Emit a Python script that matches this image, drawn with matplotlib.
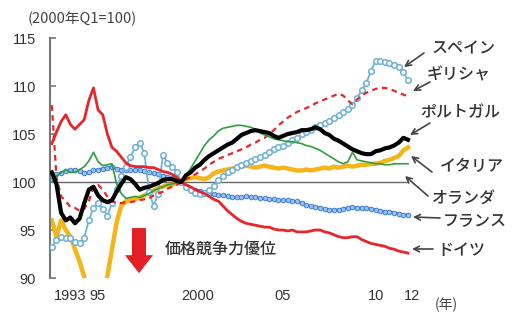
import numpy as np
import matplotlib.pyplot as plt

plt.rcParams['font.family'] = ['Noto Sans CJK JP', 'DejaVu Sans']

# quarterly, 1993Q1 .. 2012Q2 (2000Q1 = 100)
years = 1993 + np.arange(78) / 4

germany = [104.0, 105.2, 106.3, 107.0, 106.0, 105.5, 106.0, 106.5,
           108.5, 109.8, 107.5, 107.0, 105.0, 103.6, 103.2, 102.6,
           102.0, 101.7, 101.6, 101.6, 101.6, 101.5, 101.5, 101.3,
           101.1, 101.0, 100.8, 100.5, 100.0, 99.7, 99.5, 99.2,
           99.0, 98.8, 98.5, 98.2, 98.0, 97.5, 97.0, 96.6,
           96.2, 95.9, 95.7, 95.6, 95.5, 95.4, 95.3, 95.3,
           95.1, 95.0, 95.0, 94.9, 95.0, 94.8, 94.8, 94.8,
           94.9, 95.0, 95.0, 94.8, 94.7, 94.5, 94.3, 94.2,
           94.2, 94.3, 94.3, 94.0, 93.8, 93.6, 93.5, 93.4,
           93.3, 93.1, 93.0, 92.8, 92.7, 92.6]

greece = [108.0, 100.5, 98.5, 98.0, 97.4, 97.3, 97.0, 97.2,
          98.0, 99.5, 99.7, 99.2, 98.5, 98.0, 97.8, 97.8,
          97.9, 97.9, 98.0, 98.1, 98.2, 98.3, 98.6, 98.8,
          99.0, 99.3, 99.5, 99.7, 100.0, 100.3, 100.5, 100.8,
          101.1, 101.4, 101.8, 102.1, 102.4, 102.6, 102.8, 103.0,
          103.2, 103.4, 103.6, 103.9, 104.1, 104.4, 104.6, 105.0,
          105.4, 105.9, 106.3, 106.7, 107.0, 107.3, 107.5, 107.7,
          107.9, 108.2, 108.4, 108.6, 108.8, 109.0, 109.2, 109.0,
          108.5, 108.1, 108.6, 109.0, 109.3, 109.5, 109.7, 109.8,
          109.8, 109.7, 109.5, 109.3, 109.1, 108.9]

spain = [93.2, 94.0, 94.3, 94.2, 94.2, 93.8, 93.6, 94.2,
         96.0, 97.3, 97.8, 97.2, 96.5, 97.8, 99.3, 100.6,
         101.6, 102.6, 103.6, 104.1, 103.0, 99.0, 97.5, 98.8,
         102.8, 102.0, 101.6, 101.0, 100.0, 99.5, 99.2, 98.9,
         98.8, 98.9, 99.2, 99.6, 100.2, 100.6, 101.0, 101.3,
         101.6, 101.8, 102.0, 102.2, 102.4, 102.6, 102.8, 103.1,
         103.4, 103.6, 103.8, 104.1, 104.4, 104.6, 105.0, 105.2,
         105.4, 105.7, 105.9, 106.1, 106.4, 106.7, 107.0, 107.3,
         107.6, 108.0, 108.7, 109.6, 110.3, 111.6, 112.6, 112.6,
         112.5, 112.4, 112.2, 112.0, 111.5, 110.6]

portugal = [101.0, 99.8, 96.8, 96.0, 96.3, 95.7, 96.2, 97.8,
            99.2, 99.5, 98.6, 98.1, 97.9, 98.1, 99.0, 99.8,
            100.5, 100.3, 99.8, 99.2, 99.4, 99.5, 99.7, 99.9,
            100.2, 100.3, 100.3, 100.1, 100.0, 100.7, 101.0, 101.5,
            101.8, 102.3, 102.7, 103.0, 103.3, 103.6, 103.9, 104.1,
            104.5, 104.9, 105.1, 105.3, 105.4, 105.3, 105.2, 105.1,
            104.8, 104.6, 104.8, 105.0, 105.1, 105.2, 105.4, 105.4,
            105.5, 105.7, 105.5, 105.1, 104.9, 104.5, 104.3, 104.0,
            103.7, 103.4, 103.2, 103.0, 102.9, 102.9, 103.2, 103.3,
            103.5, 103.6, 103.8, 104.1, 104.6, 104.4]

italy = [96.0, 94.3, 96.0, 95.0, 94.3, 93.0, 91.7, 90.1,
         88.0, 87.0, 86.5, 87.5, 90.2, 93.0, 95.8, 97.5,
         98.0, 98.1, 98.2, 98.4, 98.6, 98.9, 99.1, 99.4,
         99.5, 99.7, 99.7, 99.9, 100.0, 100.3, 100.4, 100.5,
         100.4, 100.3, 100.5, 100.9, 101.1, 101.2, 101.3, 101.4,
         101.5, 101.6, 101.7, 101.6, 101.5, 101.6, 101.7, 101.6,
         101.5, 101.4, 101.5, 101.4, 101.3, 101.2, 101.2, 101.3,
         101.2, 101.3, 101.4, 101.5, 101.4, 101.6, 101.5, 101.6,
         101.7, 101.6, 101.7, 101.8, 101.8, 101.9, 101.9, 102.0,
         102.2, 102.3, 102.5, 102.7, 103.3, 103.6]

netherlands = [100.0, 100.6, 101.0, 101.3, 101.0, 101.0, 101.3, 101.6,
               102.2, 103.1, 102.1, 101.7, 101.8, 101.9, 99.8, 98.8,
               98.3, 98.4, 98.5, 98.4, 98.6, 98.8, 99.1, 99.3,
               99.5, 99.7, 99.8, 99.9, 100.0, 100.7, 101.4, 102.2,
               103.0, 103.8, 104.4, 104.8, 105.3, 105.6, 105.7, 105.8,
               105.9, 105.9, 105.8, 105.7, 105.5, 105.1, 104.9, 104.7,
               104.5, 104.4, 104.3, 104.2, 104.2, 104.1, 104.0, 103.8,
               103.7, 103.5, 103.3, 103.0, 102.7, 102.4, 102.1, 101.9,
               102.1, 103.1, 102.3, 102.2, 102.1, 102.0, 101.9, 101.9,
               101.8, 101.8, 101.9, 101.9, 101.9, 101.9]

france = [100.2, 100.8, 100.9, 101.1, 101.2, 101.3, 101.1, 100.9,
          101.0, 101.2, 101.3, 101.4, 101.5, 101.6, 101.4, 101.3,
          101.3, 101.2, 101.2, 101.3, 101.1, 101.0, 100.9, 100.8,
          100.6, 100.5, 100.4, 100.2, 100.0, 99.6, 99.3, 99.2,
          99.1, 98.9, 98.8, 98.7, 98.6, 98.6, 98.5, 98.4,
          98.4, 98.4, 98.5, 98.4, 98.4, 98.3, 98.3, 98.2,
          98.2, 98.1, 98.1, 98.1, 98.0, 98.0, 97.8, 97.6,
          97.5, 97.4, 97.3, 97.2, 97.1, 97.1, 97.1, 97.2,
          97.3, 97.4, 97.3, 97.3, 97.3, 97.2, 97.1, 97.0,
          96.9, 96.9, 96.8, 96.7, 96.6, 96.6]

xtick_pos = [1993.97, 1995.45, 2000.9, 2005.45, 2010.55, 2012.45]
xtick_lab = ['1993', '95', '2000', '05', '10', '12']
yticks = [90, 95, 100, 105, 110, 115]

# label text, text pos (px), arrow tail (px), arrow head (px)
labels = [('スペイン', (432, 49), (424, 53), (404, 67)),
          ('ギリシャ', (427, 75), (430, 82), (413, 91)),
          ('ポルトガル', (420, 113), (430, 123), (410, 135)),
          ('イタリア', (440, 167), (432, 172), (411, 156)),
          ('オランダ', (432, 198), (428, 196), (405, 176)),
          ('フランス', (443, 222), (440, 218), (413, 217)),
          ('ドイツ', (437, 250), (433, 249), (412, 249))]

W, H = 515, 312
fig = plt.figure(figsize=(W / 100, H / 100), dpi=100)
ax = fig.add_axes([50 / W, 34 / H, 370 / W, 240 / H])
ax.set_xlim(1992.9, 2012.9)
ax.set_ylim(90, 115)

ax.hlines(100, years[0], years[-1], color='#666666', lw=1.0, zorder=1)

ax.plot(years, italy, color='#f4b41a', lw=3.2, zorder=2)
ax.plot(years, france, color='#3f7fd0', lw=1.8, marker='o', ms=3.3,
        mfc='#9cc0ee', mec='#3f7fd0', mew=0.7, zorder=3)
ax.plot(years, spain, color='#6fb0d8', lw=1.3, marker='o', ms=4,
        mfc='white', mec='#6fb0d8', mew=1.1, zorder=3)
ax.plot(years, greece, color='#e8262a', lw=1.6, dashes=(2.5, 2), zorder=4)
ax.plot(years, germany, color='#e8262a', lw=2.0, zorder=4)
ax.plot(years, netherlands, color='#2f9e3f', lw=1.2, zorder=5)
ax.plot(years, portugal, color='black', lw=3.0, zorder=6)

for s in ['top', 'right', 'bottom']:
    ax.spines[s].set_visible(False)
ax.spines['left'].set_color('#777777')
ax.spines['left'].set_linewidth(1.5)

ax.set_yticks(yticks)
ax.tick_params(axis='y', direction='in', length=4, width=1.2, color='#777777',
               labelsize=10.5, labelcolor='#333333', pad=10)
ax.set_xticks(xtick_pos)
ax.set_xticklabels(xtick_lab)
ax.tick_params(axis='x', length=0, labelsize=10.5, labelcolor='#333333', pad=8)
for lab in ax.get_xticklabels() + ax.get_yticklabels():
    lab.set_family('Liberation Sans')

# red arrow and note
ax.arrow(1997.71, 95.2, 0, -4.7, width=14 / 18.5, head_width=28 / 18.5,
         head_length=18 / 9.6, length_includes_head=True, color='#e31e24',
         lw=0, zorder=7)
fig.text(165 / W, 1 - 249 / H, '価格競争力優位', fontsize=11.5, color='#333333',
         va='center', ha='left', fontweight='medium')

fig.text(28 / W, 1 - 19 / H, '(2000年Q1=100)', fontsize=10.5, color='#444444',
         va='center', ha='left')
fig.text(446 / W, 1 - 305 / H, '(年)', fontsize=10, color='#444444',
         va='center', ha='center')

for txt, (tx, ty), (ax0, ay0), (hx, hy) in labels:
    fig.text(tx / W, 1 - ty / H, txt, fontsize=11.5, color='#333333',
             va='center', ha='left', fontweight='medium')
    ax.annotate('', xy=(hx, H - hy), xycoords='figure pixels',
                xytext=(ax0, H - ay0), textcoords='figure pixels',
                arrowprops=dict(arrowstyle='->', color='#444444', lw=1.2,
                                shrinkA=0, shrinkB=0))

fig.savefig('out.png', dpi=100)
